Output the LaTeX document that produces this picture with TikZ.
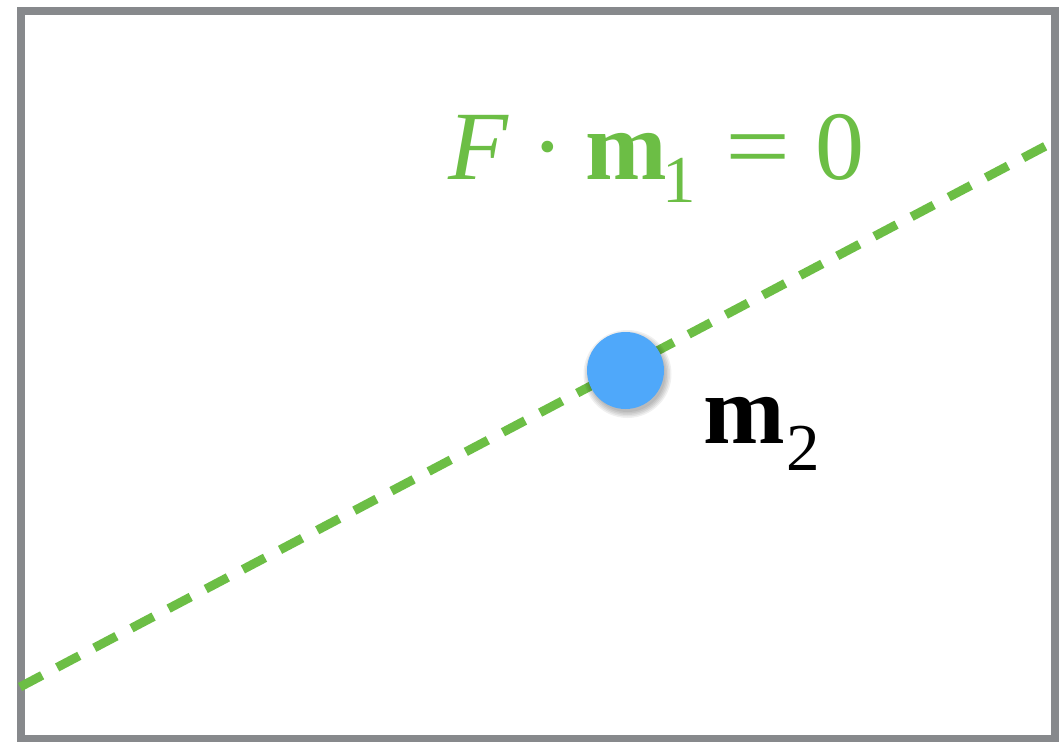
\documentclass[tikz,border=0pt]{standalone}
\usepackage{fontspec}
\setmainfont{Liberation Serif}
\definecolor{frameGray}{HTML}{87898C}
\definecolor{lineGreen}{HTML}{6CBE45}
\definecolor{dotBlue}{HTML}{4FA8FA}
\newcommand{\bigsz}{\fontsize{98}{110}\selectfont}
\newcommand{\subsz}{\fontsize{67}{70}\selectfont}
\tikzset{
  frame/.style={draw=frameGray, line width=8pt},
  zeroline/.style={draw=lineGreen, line width=9pt, dash pattern=on 25pt off 17pt},
  bigtext/.style={inner sep=0pt, font=\bigsz},
  dot/.style={circle, fill=dotBlue, minimum size=77pt, inner sep=0pt},
  shadowdisc/.style={circle, fill=black, inner sep=0pt, fill opacity=0.06}
}
\begin{document}
\begin{tikzpicture}[x=1pt,y=-1pt]
\useasboundingbox (0,0) rectangle (1059,741);
\fill[white] (0,0) rectangle (1059,741);
\draw[frame] (21,11) rectangle (1055,739);
\coordinate (lstart) at (20,687);
\coordinate (lend) at (1057,140);
\draw[zeroline] (lstart) -- (lend);
\foreach \s in {88,85,82,79,76} {
  \node[shadowdisc, minimum size=\s pt] at (627.5,374) {};
}
\node[dot] (m2dot) at (625.5,370.5) {};
\node[bigtext, text=lineGreen, anchor=base west] (eqlabel) at (448,179)
  {\textit{F}\hspace{22.75pt}·\hspace{21pt}\textbf{m}\hspace{-4pt}\raisebox{-23pt}{\subsz 1}\hspace{29.5pt}\scalebox{1.18}[1]{=}\hspace{24pt}0};
\node[bigtext, anchor=base west] (m2label) at (703.4,443)
  {\textbf{m}\hspace{1pt}\raisebox{-27pt}{\subsz 2}};
\end{tikzpicture}
\end{document}
